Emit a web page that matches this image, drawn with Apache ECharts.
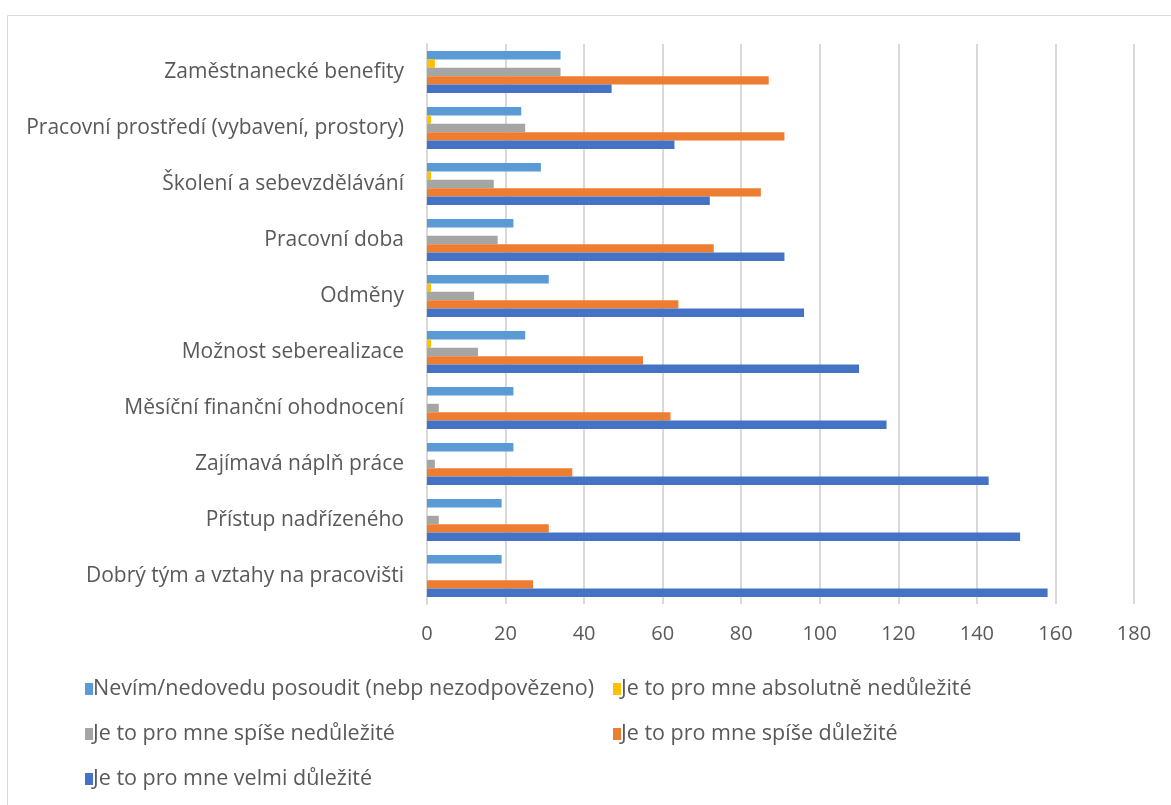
<!DOCTYPE html>
<html>
<head>
<meta charset="utf-8">
<script src="https://cdn.jsdelivr.net/npm/echarts@6/dist/echarts.min.js"></script>
<style>
  html, body { margin: 0; padding: 0; background: #fff; }
  #chart { width: 1171px; height: 805px; }
</style>
</head>
<body>
<div id="chart"></div>
<script>
// categories bottom to top, as the y axis counts them
const categories = [
  'Dobrý tým a vztahy na pracovišti',
  'Přístup nadřízeného',
  'Zajímavá náplň práce',
  'Měsíční finanční ohodnocení',
  'Možnost seberealizace',
  'Odměny',
  'Pracovní doba',
  'Školení a sebevzdělávání',
  'Pracovní prostředí (vybavení, prostory)',
  'Zaměstnanecké benefity',
]

const seriesNames = [
  'Nevím/nedovedu posoudit (nebp nezodpovězeno)',
  'Je to pro mne absolutně nedůležité',
  'Je to pro mne spíše nedůležité',
  'Je to pro mne spíše důležité',
  'Je to pro mne velmi důležité',
]

const nevim = [19, 19, 22, 22, 25, 31, 22, 29, 24, 34]
const absolutneNedulezite = [0, 0, 0, 0, 1, 1, 0, 1, 1, 2]
const spiseNedulezite = [0, 3, 2, 3, 13, 12, 18, 17, 25, 34]
const spiseDulezite = [27, 31, 37, 62, 55, 64, 73, 85, 91, 87]
const velmiDulezite = [158, 151, 143, 117, 110, 96, 91, 72, 63, 47]

const xTicks = [0, 20, 40, 60, 80, 100, 120, 140, 160, 180]

const colors = ['#5B9BD5', '#FFC000', '#A5A5A5', '#ED7D31', '#4472C4']
const seriesData = [nevim, absolutneNedulezite, spiseNedulezite, spiseDulezite, velmiDulezite]

const FONT = '"Open Sans", sans-serif'

const chart = echarts.init(document.getElementById('chart'))

// legend laid out in two columns like the original
const legendSpots = [
  { left: 85, top: 678 },
  { left: 613, top: 678 },
  { left: 85, top: 723 },
  { left: 613, top: 723 },
  { left: 85, top: 768 },
]

chart.setOption({
  animation: false,
  color: colors,
  graphic: [
    {
      type: 'rect',
      shape: { x: 7.5, y: 15.5, width: 1200, height: 820 },
      style: { fill: 'none', stroke: '#d9d9d9', lineWidth: 1 },
      silent: true,
    },
  ],
  grid: {
    left: 427,
    right: 37,
    top: 44,
    bottom: 201,
    containLabel: false,
  },
  legend: seriesNames.map((name, i) => ({
    data: [name],
    left: legendSpots[i].left,
    top: legendSpots[i].top,
    padding: 0,
    itemWidth: 8,
    itemHeight: 12,
    itemGap: 0,
    icon: 'rect',
    selectedMode: false,
    textStyle: { color: '#595959', fontSize: 21.5, fontFamily: FONT, padding: [0, 0, 0, -5] },
  })),
  xAxis: {
    type: 'value',
    min: 0,
    max: 180,
    interval: 20,
    axisLine: { show: false },
    axisTick: { show: false },
    splitLine: { lineStyle: { color: '#d9d9d9', width: 2 } },
    axisLabel: {
      color: '#595959',
      fontSize: 20,
      fontFamily: FONT,
      margin: 20,
      formatter: (v) => (xTicks.includes(v) ? String(v) : ''),
    },
  },
  yAxis: {
    type: 'category',
    data: categories,
    axisLine: { show: true, lineStyle: { color: '#d9d9d9', width: 2 } },
    axisTick: { show: false },
    axisLabel: {
      color: '#595959',
      fontSize: 21,
      fontFamily: FONT,
      margin: 23,
    },
  },
  series: seriesNames.map((name, i) => ({
    name,
    type: 'bar',
    data: seriesData[i],
    barGap: '0%',
    barCategoryGap: '25%',
    itemStyle: { color: colors[i] },
  })),
})
</script>
</body>
</html>
